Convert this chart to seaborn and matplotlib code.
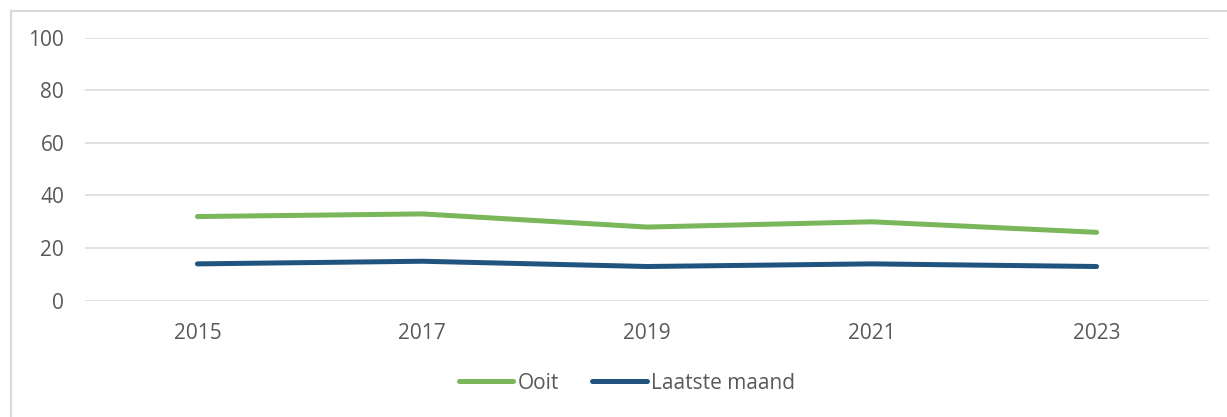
import matplotlib
matplotlib.use("Agg")
import matplotlib.pyplot as plt
import pandas as pd
import seaborn as sns
from matplotlib.lines import Line2D

# Data
years = ["2015", "2017", "2019", "2021", "2023"]
ooit = [32, 33, 28, 30, 26]
laatste_maand = [14, 15, 13, 14, 13]
series_names = ["Ooit", "Laatste maand"]
y_ticks = [0, 20, 40, 60, 80, 100]

GREEN = "#79B75A"
BLUE = "#20547F"
TEXT = "#595959"
GRID = "#D9D9D9"

df = pd.DataFrame({
    "year": years * 2,
    "value": ooit + laatste_maand,
    "series": [series_names[0]] * len(years) + [series_names[1]] * len(years),
})

sns.set_style("white")
plt.rcParams["font.family"] = ["Open Sans", "DejaVu Sans"]

fig = plt.figure(figsize=(12.27, 4.17), dpi=100)
ax = fig.add_axes([0.0693, 0.2789, 0.916, 0.6307])

sns.lineplot(
    data=df, x="year", y="value", hue="series",
    palette={series_names[0]: GREEN, series_names[1]: BLUE},
    linewidth=3.6, legend=False, sort=False, ax=ax,
)
for line in ax.get_lines():
    line.set_solid_capstyle("round")
    line.set_solid_joinstyle("round")

ax.set_xlim(-0.5, len(years) - 0.5)
ax.set_ylim(0, 100)
ax.set_yticks(y_ticks)
ax.set_xlabel("")
ax.set_ylabel("")
ax.yaxis.grid(True, color=GRID, linewidth=1.1)
ax.set_axisbelow(True)
for spine in ax.spines.values():
    spine.set_visible(False)
ax.tick_params(axis="both", length=0, labelsize=15, labelcolor=TEXT)
ax.tick_params(axis="y", pad=15)
ax.tick_params(axis="x", pad=16)

handles = [
    Line2D([0], [0], color=GREEN, linewidth=3.6, solid_capstyle="round"),
    Line2D([0], [0], color=BLUE, linewidth=3.6, solid_capstyle="round"),
]
fig.legend(
    handles, series_names, loc="center", bbox_to_anchor=(0.511, 0.0815),
    ncol=2, frameon=False, fontsize=15, labelcolor=TEXT,
    handlelength=2.6, handletextpad=0.2, columnspacing=1.6,
)

# Chart border (left and top edges visible in the reference)
fig.add_artist(Line2D([11 / 1227, 11 / 1227], [0, 1 - 11 / 417],
                      transform=fig.transFigure, color=GRID, linewidth=1.5))
fig.add_artist(Line2D([11 / 1227, 1], [1 - 11 / 417, 1 - 11 / 417],
                      transform=fig.transFigure, color=GRID, linewidth=1.5))

fig.savefig("out.png", dpi=100, facecolor="white")
